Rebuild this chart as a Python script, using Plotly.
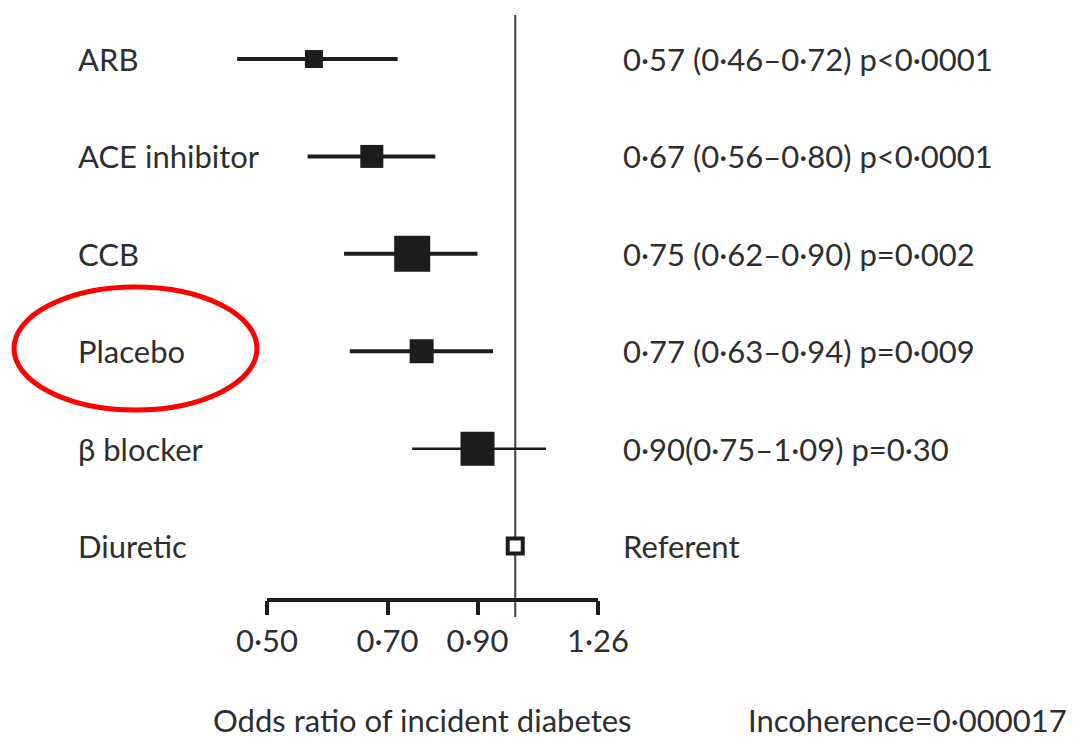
import math
import plotly.graph_objects as go

# ---- data ----
treatments = ["ARB", "ACE inhibitor", "CCB", "Placebo", "β blocker", "Diuretic"]
odds_ratio = [0.57, 0.67, 0.75, 0.77, 0.90, 1.00]
ci_low = [0.46, 0.56, 0.62, 0.63, 0.75, None]
ci_high = [0.72, 0.80, 0.90, 0.94, 1.09, None]
result_text = [
    "0·57 (0·46–0·72) p<0·0001",
    "0·67 (0·56–0·80) p<0·0001",
    "0·75 (0·62–0·90) p=0·002",
    "0·77 (0·63–0·94) p=0·009",
    "0·90(0·75–1·09) p=0·30",
    "Referent",
]
tick_values = [0.50, 0.70, 0.90, 1.26]
tick_labels = ["0·50", "0·70", "0·90", "1·26"]
x_title = "Odds ratio of incident diabetes"
incoherence = "Incoherence=0·000017"

# ---- styles ----
marker_sizes = [18, 23, 36, 24, 34]
ci_widths = [4, 4, 4, 4, 2.5]
FONT = "Lato, Roboto, sans-serif"
FS = 31
TXT = "#2e2e2e"
INK = "#1c1c1c"

W, H = 1073, 740
AX_LEFT_PX, AX_RIGHT_PX = 267, 598      # pixel span of the drawn axis (0.50 .. 1.26)
X_MIN = 0.43                            # plot range extends left so the ARB interval is not clipped
lg = math.log10
frac = (lg(tick_values[0]) - lg(X_MIN)) / (lg(tick_values[-1]) - lg(X_MIN))
L = round((AX_LEFT_PX - frac * AX_RIGHT_PX) / (1 - frac))
R, T, B = W - AX_RIGHT_PX, 15, 140
PW, PH = W - L - R, H - T - B

def px_to_paper_x(px):
    return (px - L) / PW

def px_to_paper_y(py):
    return (H - B - py) / PH

fig = go.Figure()
rows = list(range(len(treatments)))

# confidence intervals
for i in rows:
    if ci_low[i] is None:
        continue
    fig.add_trace(go.Scatter(
        x=[ci_low[i], ci_high[i]], y=[i, i], mode="lines",
        line=dict(color=INK, width=ci_widths[i]),
        hoverinfo="skip", showlegend=False,
    ))

# point estimates
filled = [i for i in rows if ci_low[i] is not None]
fig.add_trace(go.Scatter(
    x=[odds_ratio[i] for i in filled], y=filled, mode="markers",
    marker=dict(symbol="square", size=marker_sizes, color=INK, opacity=1,
                line=dict(width=0)),
    showlegend=False, cliponaxis=False,
))
ref = [i for i in rows if ci_low[i] is None]
fig.add_trace(go.Scatter(
    x=[odds_ratio[i] for i in ref], y=ref, mode="markers",
    marker=dict(symbol="square", size=15, color="white", opacity=1,
                line=dict(width=4, color=INK)),
    showlegend=False, cliponaxis=False,
))

# reference line at OR = 1
fig.add_shape(type="line", xref="x", yref="paper", x0=1.0, x1=1.0,
              y0=1.0, y1=px_to_paper_y(617), line=dict(color="#444", width=2),
              layer="below")
# axis baseline from 0.50 to 1.26
fig.add_shape(type="line", xref="x", yref="paper", x0=tick_values[0], x1=tick_values[-1],
              y0=0, y1=0, line=dict(color=INK, width=4))

# row labels and results
for i in rows:
    fig.add_annotation(xref="paper", yref="y", x=px_to_paper_x(76), y=i,
                       text=treatments[i], showarrow=False, xanchor="left",
                       yanchor="middle", font=dict(family=FONT, size=FS, color=TXT))
    fig.add_annotation(xref="paper", yref="y", x=px_to_paper_x(621), y=i,
                       text=result_text[i], showarrow=False, xanchor="left",
                       yanchor="middle", font=dict(family=FONT, size=FS, color=TXT))

fig.add_annotation(xref="paper", yref="paper", x=px_to_paper_x(211), y=px_to_paper_y(720),
                   text=x_title, showarrow=False, xanchor="left", yanchor="middle",
                   font=dict(family=FONT, size=FS, color=TXT))
fig.add_annotation(xref="paper", yref="paper", x=px_to_paper_x(1069), y=px_to_paper_y(720),
                   text=incoherence, showarrow=False, xanchor="right", yanchor="middle",
                   font=dict(family=FONT, size=FS, color=TXT))

# red highlight ellipse
fig.add_shape(type="circle", xref="paper", yref="paper",
              x0=px_to_paper_x(14), x1=px_to_paper_x(257),
              y0=px_to_paper_y(287), y1=px_to_paper_y(410),
              line=dict(color="#ff0000", width=5))

n = len(treatments)
fig.update_layout(
    width=W, height=H,
    margin=dict(l=L, r=R, t=T, b=B, pad=0),
    paper_bgcolor="white", plot_bgcolor="white",
    xaxis=dict(
        type="log",
        range=[lg(X_MIN), lg(tick_values[-1])],
        tickvals=tick_values, ticktext=tick_labels,
        ticks="outside", ticklen=14, tickwidth=4, tickcolor=INK,
        showline=False, showgrid=False, zeroline=False,
        tickfont=dict(family=FONT, size=FS, color=TXT),
    ),
    yaxis=dict(visible=False, range=[n - 1 + 0.554, -0.452]),
)

fig.write_html("out.html", post_script="document.body.style.margin='0';",
               config={"displayModeBar": False})
